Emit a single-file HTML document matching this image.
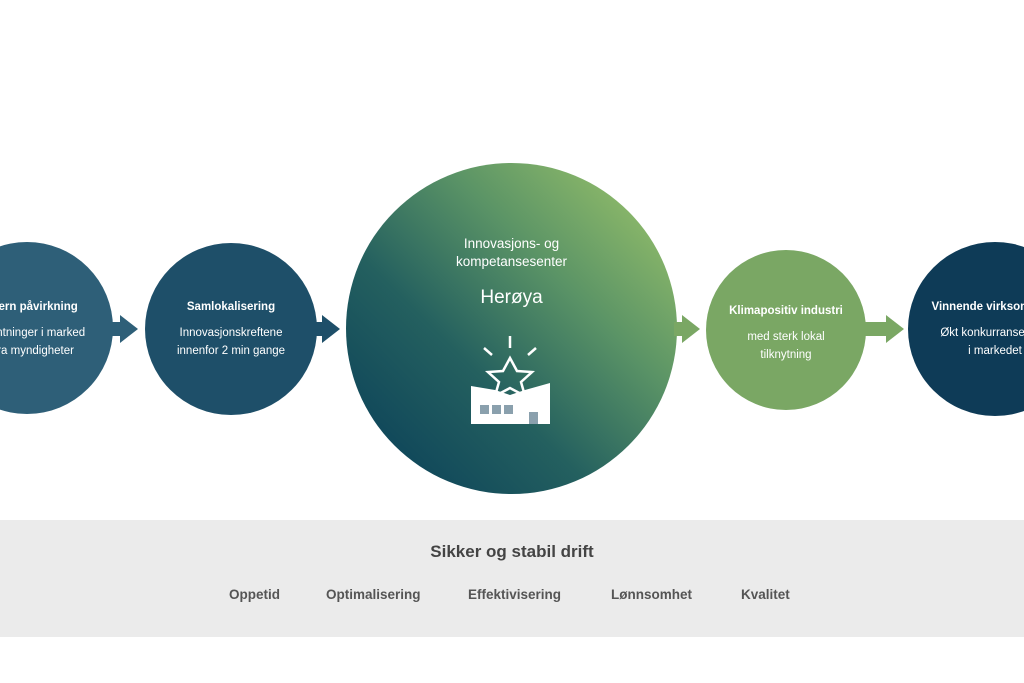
<!DOCTYPE html>
<html><head><meta charset="utf-8"><style>
body{margin:0;width:1024px;height:683px;background:#fff;position:relative;overflow:hidden;font-family:"Liberation Sans",sans-serif}
.c{position:absolute;border-radius:50%;color:#fff;text-align:center}
.ar{position:absolute;width:0;height:0;border-top:14px solid transparent;border-bottom:14px solid transparent}
.st{position:absolute;height:14px}
</style></head><body>
<div class="c" style="left:-59px;top:242px;width:172px;height:172px;background:#2e5f78"></div>
<div class="c" style="left:145px;top:243px;width:172px;height:172px;background:#1e4f69"></div>
<div class="c" style="left:346px;top:163px;width:331px;height:331px;background:linear-gradient(225deg,#a4ca6b 0%,#5b9466 35%,#24605f 62%,#063b58 100%)"></div>
<div class="c" style="left:706px;top:250px;width:160px;height:160px;background:#7aa764"></div>
<div class="c" style="left:908px;top:242px;width:174px;height:174px;background:#0e3b57"></div>

<div class="st" style="left:110px;top:322px;width:12px;background:#2e5f78"></div><div class="ar" style="left:120px;top:315px;border-left:18px solid #2e5f78"></div>
<div class="st" style="left:314px;top:322px;width:10px;background:#1e4f69"></div><div class="ar" style="left:322px;top:315px;border-left:18px solid #1e4f69"></div>
<div class="st" style="left:674px;top:322px;width:10px;background:#7aa764"></div><div class="ar" style="left:682px;top:315px;border-left:18px solid #7aa764"></div>
<div class="st" style="left:864px;top:322px;width:24px;background:#7aa764"></div><div class="ar" style="left:886px;top:315px;border-left:18px solid #7aa764"></div>

<div style="position:absolute;left:-60px;width:172px;top:298px;color:#fff;text-align:center;font-size:11.5px;line-height:18px"><b>Ekstern påvirkning</b><br><span style="display:block;margin-top:8px">Forventninger i marked<br>og fra myndigheter</span></div>
<div style="position:absolute;left:145px;width:172px;top:298px;color:#fff;text-align:center;font-size:11.5px;line-height:18px"><b>Samlokalisering</b><br><span style="display:block;margin-top:8px">Innovasjonskreftene<br>innenfor 2 min gange</span></div>
<div style="position:absolute;left:346px;width:331px;top:235px;color:#fff;text-align:center;font-size:13.5px;line-height:18px">Innovasjons- og<br>kompetansesenter<div style="font-size:19px;margin-top:18px">Herøya</div></div>
<div style="position:absolute;left:706px;width:160px;top:302px;color:#fff;text-align:center;font-size:11.5px;line-height:18px"><b>Klimapositiv industri</b><br><span style="display:block;margin-top:8px">med sterk lokal<br>tilknytning</span></div>
<div style="position:absolute;left:908px;width:174px;top:298px;color:#fff;text-align:center;font-size:11.5px;line-height:18px"><b>Vinnende virksomheter</b><br><span style="display:block;margin-top:8px">Økt konkurranseevne<br>i markedet</span></div>

<svg style="position:absolute;left:440px;top:320px" width="140" height="110" viewBox="0 0 140 110">
<g stroke="#fff" stroke-width="2.5" fill="none">
<line x1="70" y1="16" x2="70" y2="28"/><line x1="44" y1="28" x2="52" y2="35"/><line x1="96" y1="28" x2="88" y2="35"/>
<path d="M70 38 L77 51 L92 52 L81 62 L85 76 L70 68 L55 76 L59 62 L48 52 L63 51 Z"/>
</g>
<path d="M31 66 L55 70 L70 75 L85 70 L110 63 L110 104 L31 104 Z" fill="#fff"/>
<rect x="40" y="85" width="9" height="9" fill="#8aa0ad"/><rect x="52" y="85" width="9" height="9" fill="#8aa0ad"/><rect x="64" y="85" width="9" height="9" fill="#8aa0ad"/>
<rect x="89" y="92" width="9" height="12" fill="#8aa0ad"/>
</svg>

<div style="position:absolute;left:0;top:520px;width:1024px;height:117px;background:#ebebeb"></div>
<div style="position:absolute;left:0;width:1024px;top:542px;text-align:center;font-size:17px;font-weight:bold;color:#444">Sikker og stabil drift</div>
<div style="position:absolute;top:587px;font-size:13.5px;font-weight:bold;color:#555;left:229px">Oppetid</div>
<div style="position:absolute;top:587px;font-size:13.5px;font-weight:bold;color:#555;left:326px">Optimalisering</div>
<div style="position:absolute;top:587px;font-size:13.5px;font-weight:bold;color:#555;left:468px">Effektivisering</div>
<div style="position:absolute;top:587px;font-size:13.5px;font-weight:bold;color:#555;left:611px">Lønnsomhet</div>
<div style="position:absolute;top:587px;font-size:13.5px;font-weight:bold;color:#555;left:741px">Kvalitet</div>
</body></html>
